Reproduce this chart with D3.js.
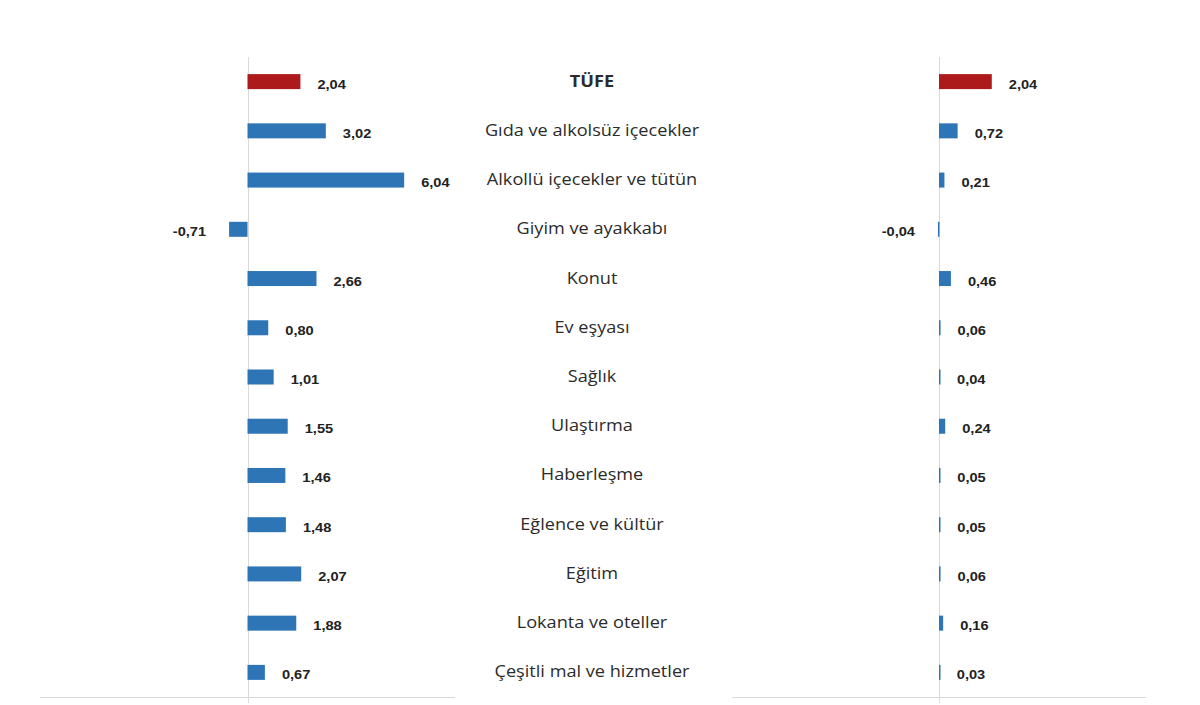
<!DOCTYPE html>
<html>
  <head>
    <meta charset="utf-8">
    <title>TÜFE</title>
    <script src="https://d3js.org/d3.v7.min.js"></script>
    <style>
      body { margin: 0; background: white; }
      svg { background-color: white; display: block; }
      .value { font-family: "Liberation Sans", Arial, sans-serif; font-weight: bold; font-size: 12.5px; fill: #222; }
      .cat { font-family: "Open Sans", sans-serif; font-size: 15.5px; fill: #2b2b2b; }
      .cat.head { font-weight: bold; }
      .axis-line { stroke: #d9d9d9; stroke-width: 1px; }
    </style>
  </head>
  <body>
    <svg></svg>
    <script>
      // data
      var categories = ["TÜFE", "Gıda ve alkolsüz içecekler", "Alkollü içecekler ve tütün",
        "Giyim ve ayakkabı", "Konut", "Ev eşyası", "Sağlık", "Ulaştırma", "Haberleşme",
        "Eğlence ve kültür", "Eğitim", "Lokanta ve oteller", "Çeşitli mal ve hizmetler"];
      var changes = [2.04, 3.02, 6.04, -0.71, 2.66, 0.80, 1.01, 1.55, 1.46, 1.48, 2.07, 1.88, 0.67];
      var contributions = [2.04, 0.72, 0.21, -0.04, 0.46, 0.06, 0.04, 0.24, 0.05, 0.05, 0.06, 0.16, 0.03];

      //begin: layout config.
      var svgWidth = 1200,
          svgHeight = 705,
          rowTop = 57,
          rowBottom = 697,
          barH = 15,
          labelX = 592,
          stretch = 1.17; // the source image is a bit wider than tall
      //end: layout config.

      var svg = d3.select("svg")
        .attr("width", svgWidth)
        .attr("height", svgHeight);

      var y = d3.scaleBand().domain(categories).range([rowTop, rowBottom]).padding(0);

      var fmt = function(v) { return v.toFixed(2).replace(".", ","); };

      var panels = [
        {values: changes, x: d3.scaleLinear().domain([-8, 8]).range([40, 455])},
        {values: contributions, x: d3.scaleLinear().domain([-8, 8]).range([732, 1146])}
      ];

      panels.forEach(function(p) {
        var g = svg.append("g");
        var x = p.x;

        g.append("line").classed("axis-line", true)
          .attr("x1", x.range()[0]).attr("x2", x.range()[1])
          .attr("y1", rowBottom + 0.5).attr("y2", rowBottom + 0.5);
        g.append("line").classed("axis-line", true)
          .attr("x1", Math.round(x(0)) + 0.5).attr("x2", Math.round(x(0)) + 0.5)
          .attr("y1", rowTop).attr("y2", rowBottom + 6);

        var rows = g.selectAll(".row")
          .data(categories.map(function(c, i) { return {cat: c, v: p.values[i], i: i}; }))
          .enter().append("g").classed("row", true);

        rows.append("rect")
          .attr("x", function(d) { return x(Math.min(0, d.v)); })
          .attr("width", function(d) { return Math.max(1.5, Math.abs(x(d.v) - x(0))); })
          .attr("y", function(d) { return y(d.cat) + y.bandwidth() / 2 - barH / 2; })
          .attr("height", barH)
          .attr("fill", function(d) { return d.i === 0 ? "#AC1A1C" : "#2E75B6"; });

        rows.append("text").classed("value", true)
          .attr("transform", function(d) {
            var tx = d.v < 0 ? x(d.v) - 23 : x(d.v) + 17;
            var ty = y(d.cat) + y.bandwidth() / 2 + 7;
            return "translate(" + [tx, ty] + ") scale(" + stretch + ",1)";
          })
          .attr("text-anchor", function(d) { return d.v < 0 ? "end" : "start"; })
          .text(function(d) { return fmt(d.v); });
      });

      svg.selectAll(".cat")
        .data(categories)
        .enter().append("text")
          .attr("class", function(d, i) { return i === 0 ? "cat head" : "cat"; })
          .attr("transform", function(d) {
            return "translate(" + [labelX, y(d) + y.bandwidth() / 2 + 5] + ") scale(" + stretch + ",1)";
          })
          .attr("text-anchor", "middle")
          .text(function(d) { return d; });
    </script>
  </body>
</html>
